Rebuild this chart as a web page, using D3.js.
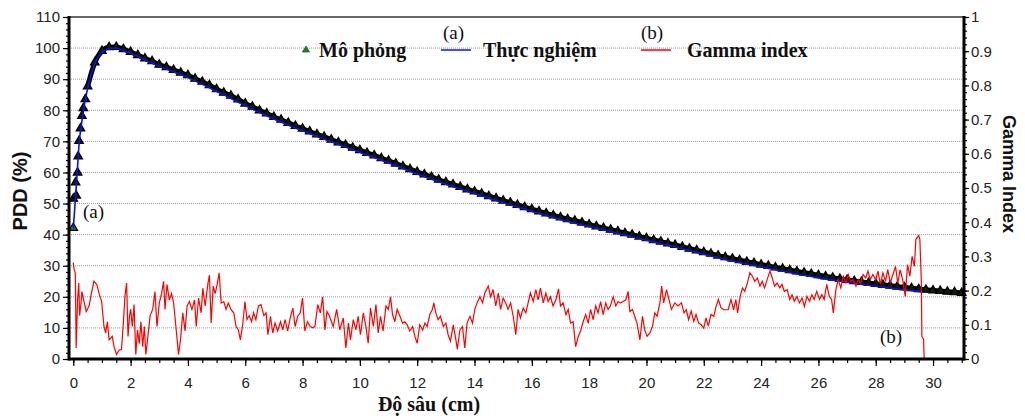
<!DOCTYPE html>
<html>
<head>
<meta charset="utf-8">
<script src="https://cdn.jsdelivr.net/npm/d3@7"></script>
<style>
  body { margin: 0; background: #fff; }
  svg { display: block; }
  .tick text { font-family: "Liberation Sans", Arial, sans-serif; font-size: 15px; fill: #222; }
  .tick line { stroke: #000; stroke-width: 1.2; }
  .serif { font-family: "Liberation Serif", "Times New Roman", serif; fill: #111; }
</style>
</head>
<body>
<div id="graphic"></div>
<script>
// Mô phỏng (simulated PDD, triangles)
var simDepth = [0, 0, 0.1, 0.08, 0.15, 0.17, 0.2, 0.25, 0.3, 0.35, 0.42,
  0.5, 0.75, 1, 1.25, 1.5, 1.75, 2, 2.25, 2.5, 2.75, 3, 3.25, 3.5, 3.75, 4, 4.25, 4.5, 4.75,
  5, 5.25, 5.5, 5.75, 6, 6.25, 6.5, 6.75, 7, 7.25, 7.5, 7.75, 8, 8.25, 8.5, 8.75,
  9, 9.25, 9.5, 9.75, 10, 10.25, 10.5, 10.75, 11, 11.25, 11.5, 11.75, 12, 12.25, 12.5, 12.75,
  13, 13.25, 13.5, 13.75, 14, 14.25, 14.5, 14.75, 15, 15.25, 15.5, 15.75, 16, 16.25, 16.5, 16.75,
  17, 17.25, 17.5, 17.75, 18, 18.25, 18.5, 18.75, 19, 19.25, 19.5, 19.75, 20, 20.25, 20.5, 20.75,
  21, 21.25, 21.5, 21.75, 22, 22.25, 22.5, 22.75, 23, 23.25, 23.5, 23.75, 24, 24.25, 24.5, 24.75,
  25, 25.25, 25.5, 25.75, 26, 26.25, 26.5, 26.75, 27, 27.25, 27.5, 27.75, 28, 28.25, 28.5, 28.75,
  29, 29.25, 29.5, 29.75, 30, 30.25, 30.5, 30.75, 31];
var simPdd = [42, 51.4, 52.4, 56.6, 59.8, 65, 70, 74, 78, 80.5, 83.4,
  87.5, 95.2, 98.9, 100.1, 100.2, 99.5, 98.6, 97.6, 96.5, 95.6, 94.5, 93.7, 92.8, 91.9, 91.1, 90, 89, 87.9,
  86.6, 85.5, 84.5, 83.3, 82, 81, 79.8, 78.8, 77.7, 76.8, 75.8, 74.8, 73.9, 73, 72.1, 71.3,
  70.4, 69.5, 68.7, 67.8, 67, 66.1, 65.3, 64.4, 63.6, 62.7, 61.8, 60.9, 60, 59.2, 58.4, 57.5,
  56.7, 56, 55.2, 54.4, 53.7, 53, 52.2, 51.5, 50.8, 50.1, 49.4, 48.7, 48, 47.3, 46.7, 46,
  45.4, 44.8, 44.3, 43.7, 43.1, 42.5, 42, 41.4, 40.9, 40.3, 39.8, 39.2, 38.7, 38.1, 37.6, 37,
  36.5, 35.9, 35.3, 34.8, 34.2, 33.7, 33.1, 32.6, 32.1, 31.6, 31.1, 30.7, 30.2, 29.8, 29.3, 28.9,
  28.4, 28, 27.6, 27.2, 26.8, 26.4, 26, 25.6, 25.3, 24.9, 24.6, 24.3, 24, 23.7, 23.4, 23.1,
  22.9, 22.6, 22.3, 22.1, 21.9, 21.7, 21.5, 21.3, 21.1];

// Thực nghiệm (measured PDD, blue line)
var expDepth = [0, 0.05, 0.1, 0.15, 0.2, 0.3, 0.4, 0.5, 0.6, 0.7, 0.8, 0.9, 1, 1.2, 1.4, 1.6, 1.8, 2, 2.5, 3,
  4, 5, 6, 7, 8, 9, 10, 11, 12, 13, 14, 15, 16, 17, 18, 19, 20, 21, 22, 23, 24, 25, 26, 27, 28, 29, 29.6];
var expPdd = [42, 48.5, 55, 62, 69, 76.5, 82.5, 87, 90.8, 93.8, 96, 97.6, 98.7, 99.7, 100, 99.7, 99, 98.3, 96.2, 94.2,
  90.5, 86.1, 81.5, 77.2, 73.4, 69.9, 66.5, 63.1, 59.5, 56.2, 53.2, 50.3, 47.5, 44.9, 42.6, 40.4, 38.2, 36, 33.7, 31.5,
  29.6, 27.8, 26.1, 24.7, 23.4, 22.3, 21.6];

// Gamma index [depth, gamma]
var gammaPts = [[0,0.282],[0.03,0.261],[0.07,0.251],[0.1,0.032],[0.15,0.173],[0.19,0.222],[0.22,0.127],[0.27,0.164],
  [0.3,0.197],[0.36,0.173],[0.45,0.139],[0.55,0.155],[0.63,0.191],[0.72,0.227],[0.82,0.218],[0.9,0.191],[0.99,0.168],
  [1.07,0.095],[1.13,0.076],[1.19,0.109],[1.25,0.056],[1.36,0.066],[1.42,0.036],[1.51,0.013],[1.6,0.027],[1.68,0.027],
  [1.75,0.109],[1.8,0.182],[1.86,0.222],[1.91,0.066],[1.96,0.125],[2,0.145],[2.06,0.095],[2.12,0.159],[2.18,0.013],
  [2.24,0.085],[2.3,0.045],[2.36,0.109],[2.42,0.036],[2.48,0.095],[2.53,0.013],[2.59,0.056],[2.68,0.127],[2.77,0.145],
  [2.85,0.197],[2.92,0.095],[3,0.164],[3.08,0.191],[3.15,0.227],[3.2,0.145],[3.27,0.218],[3.35,0.173],[3.43,0.191],
  [3.5,0.164],[3.58,0.095],[3.67,0.013],[3.74,0.056],[3.82,0.135],[3.9,0.082],[3.97,0.155],[4.05,0.168],[4.14,0.145],
  [4.23,0.173],[4.29,0.095],[4.37,0.178],[4.46,0.135],[4.52,0.207],[4.6,0.155],[4.7,0.222],[4.75,0.245],[4.81,0.105],
  [4.88,0.213],[4.95,0.191],[5.02,0.218],[5.09,0.252],[5.16,0.164],[5.25,0.168],[5.33,0.145],[5.41,0.164],[5.5,0.145],
  [5.6,0.135],[5.68,0.095],[5.76,0.085],[5.83,0.056],[5.91,0.1],[5.99,0.168],[6.06,0.115],[6.14,0.127],[6.22,0.109],
  [6.29,0.135],[6.37,0.115],[6.46,0.155],[6.55,0.159],[6.65,0.127],[6.73,0.135],[6.79,0.071],[6.88,0.125],[6.96,0.076],
  [7.04,0.105],[7.13,0.082],[7.23,0.109],[7.31,0.085],[7.39,0.115],[7.48,0.082],[7.57,0.12],[7.66,0.149],[7.74,0.095],
  [7.83,0.125],[7.92,0.135],[8,0.178],[8.08,0.082],[8.17,0.109],[8.27,0.095],[8.35,0.091],[8.43,0.095],[8.53,0.159],
  [8.62,0.135],[8.7,0.182],[8.78,0.085],[8.85,0.139],[8.93,0.127],
  [9.07,0.095],[9.19,0.145],[9.3,0.085],[9.42,0.12],[9.51,0.032],[9.6,0.105],[9.67,0.056],[9.77,0.115],[9.86,0.085],
  [9.94,0.125],[10.02,0.071],[10.12,0.135],[10.21,0.095],[10.29,0.046],[10.37,0.149],[10.47,0.095],[10.56,0.159],
  [10.64,0.076],[10.72,0.125],[10.81,0.082],[10.91,0.155],[10.99,0.145],[11.07,0.182],[11.14,0.13],[11.22,0.109],
  [11.3,0.145],[11.4,0.125],[11.49,0.105],[11.57,0.109],[11.65,0.1],[11.74,0.082],[11.84,0.095],[11.92,0.066],[12,0.046],
  [12.09,0.1],[12.19,0.085],[12.27,0.105],[12.35,0.095],[12.44,0.13],[12.53,0.145],[12.58,0.164],[12.65,0.135],
  [12.73,0.115],[12.81,0.125],[12.91,0.095],[13,0.105],[13.08,0.071],[13.16,0.052],[13.26,0.1],[13.35,0.056],[13.4,0.029],
  [13.49,0.085],[13.58,0.095],[13.66,0.032],[13.74,0.105],[13.84,0.125],[13.93,0.105],[14.01,0.145],[14.09,0.164],
  [14.19,0.182],[14.28,0.164],[14.36,0.193],[14.48,0.213],[14.56,0.182],[14.65,0.203],[14.74,0.155],[14.83,0.193],
  [14.91,0.145],[15,0.178],[15.09,0.164],[15.17,0.145],[15.26,0.164],[15.35,0.125],[15.44,0.071],[15.52,0.145],[15.6,0.12],
  [15.7,0.149],[15.79,0.135],[15.87,0.164],[15.95,0.193],[16.05,0.168],[16.14,0.203],[16.22,0.173],[16.3,0.207],
  [16.4,0.164],[16.49,0.193],[16.57,0.168],[16.65,0.182],[16.74,0.155],[16.84,0.173],[16.93,0.205],[17,0.155],
  [17.09,0.164],[17.19,0.13],[17.27,0.145],[17.35,0.105],[17.44,0.109],[17.53,0.036],[17.62,0.066],[17.7,0.082],
  [17.79,0.109],[17.88,0.13],[17.97,0.105],[18.05,0.145],[18.14,0.115],[18.23,0.155],[18.31,0.135],[18.4,0.168],
  [18.49,0.13],[18.58,0.164],[18.66,0.145],[18.74,0.155],[18.84,0.182],[18.93,0.155],[19.01,0.168],[19.09,0.164],
  [19.19,0.168],[19.28,0.173],[19.36,0.198],[19.42,0.139],[19.51,0.145],[19.59,0.125],[19.67,0.105],[19.77,0.056],
  [19.86,0.125],[19.94,0.085],[20.02,0.066],[20.12,0.076],[20.21,0.095],[20.29,0.135],[20.37,0.125],[20.47,0.164],
  [20.53,0.213],[20.6,0.164],[20.7,0.203],[20.79,0.173],[20.87,0.145],[20.99,0.164],[21.1,0.155],
  [21.22,0.164],[21.31,0.135],[21.39,0.144],[21.47,0.115],[21.56,0.14],[21.65,0.11],[21.73,0.13],[21.82,0.105],
  [21.91,0.1],[22,0.09],[22.08,0.12],[22.16,0.096],[22.25,0.13],[22.35,0.125],[22.43,0.154],[22.51,0.174],[22.6,0.15],
  [22.69,0.144],[22.77,0.144],[22.85,0.144],[22.95,0.174],[23.04,0.144],[23.12,0.174],[23.18,0.135],[23.27,0.183],
  [23.35,0.208],[23.43,0.198],[23.52,0.222],[23.61,0.252],[23.7,0.242],[23.78,0.227],[23.87,0.237],[23.96,0.213],
  [24.04,0.227],[24.12,0.208],[24.21,0.232],[24.31,0.257],[24.39,0.237],[24.47,0.213],[24.56,0.222],[24.65,0.208],
  [24.73,0.218],[24.81,0.198],[24.91,0.203],[25,0.174],[25.08,0.188],[25.16,0.169],[25.25,0.183],[25.34,0.164],
  [25.43,0.178],[25.51,0.154],[25.6,0.183],[25.69,0.169],[25.77,0.188],[25.85,0.174],[25.94,0.198],[26.04,0.174],
  [26.12,0.188],[26.2,0.174],[26.29,0.218],[26.38,0.183],[26.46,0.174],[26.52,0.135],[26.61,0.203],[26.69,0.232],
  [26.78,0.208],[26.87,0.242],[26.96,0.222],[27.04,0.247],[27.12,0.227],[27.21,0.232],[27.31,0.213],[27.39,0.232],
  [27.47,0.222],[27.56,0.247],[27.65,0.237],[27.73,0.257],[27.81,0.232],[27.9,0.247],[28,0.232],[28.08,0.257],
  [28.16,0.218],[28.25,0.252],[28.34,0.227],[28.42,0.261],[28.51,0.222],[28.6,0.247],[28.69,0.271],[28.77,0.222],
  [28.85,0.261],[28.94,0.232],[29.03,0.183],[29.11,0.276],[29.19,0.242],[29.27,0.3],[29.35,0.271],[29.4,0.35],
  [29.5,0.361],[29.54,0.35],[29.59,0.232],[29.61,0.066],[29.67,0.057],[29.69,0]];

var xTicks = d3.range(0, 31, 2);
var yTicks = d3.range(0, 111, 10);
var gTicks = d3.range(0, 1.01, 0.1);

function drawChart(){
    var w = 1025, h = 420;
    var padL = 69, padR = 964, padT = 17, padB = 359;

    var svg = d3.select("#graphic").append("svg")
        .attr("width", w).attr("height", h);

    var xScale = d3.scaleLinear().domain([-0.15, 31.08]).range([padL, padR]);
    var yScale = d3.scaleLinear().domain([0, 110]).range([padB, padT]);
    var gScale = d3.scaleLinear().domain([0, 1]).range([padB, padT]);

    // grid
    svg.append("g").selectAll("line")
       .data(yTicks.filter(function(d){ return d > 0 && d < 110; }))
       .enter().append("line")
       .attr("x1", padL).attr("x2", padR)
       .attr("y1", function(d){ return yScale(d); })
       .attr("y2", function(d){ return yScale(d); })
       .attr("stroke", "#999").attr("stroke-width", 1).attr("stroke-dasharray", "1,1");

    // minor ticks
    svg.append("g")
       .attr("transform", "translate(0," + padB + ")")
       .call(d3.axisBottom(xScale).tickValues(d3.range(0, 31.01, 0.5)).tickSize(4).tickFormat(""))
       .call(function(g){ g.select(".domain").remove(); });
    svg.append("g")
       .attr("transform", "translate(" + padL + ",0)")
       .call(d3.axisLeft(yScale).tickValues(d3.range(0, 110.1, 2)).tickSize(3).tickFormat(""))
       .call(function(g){ g.select(".domain").remove(); });
    svg.append("g")
       .attr("transform", "translate(" + padR + ",0)")
       .call(d3.axisRight(gScale).tickValues(d3.range(0, 1.001, 0.02)).tickSize(3).tickFormat(""))
       .call(function(g){ g.select(".domain").remove(); });

    // major axes
    svg.append("g")
       .attr("transform", "translate(0," + padB + ")")
       .call(d3.axisBottom(xScale).tickValues(xTicks).tickSize(7).tickPadding(11).tickSizeOuter(0))
       .call(function(g){ g.select(".domain").remove(); });
    svg.append("g")
       .attr("transform", "translate(" + padL + ",0)")
       .call(d3.axisLeft(yScale).tickValues(yTicks).tickSize(6).tickPadding(3))
       .call(function(g){ g.select(".domain").remove(); });
    svg.append("g")
       .attr("transform", "translate(" + padR + ",0)")
       .call(d3.axisRight(gScale).tickValues(gTicks).tickSize(5).tickPadding(2).tickFormat(d3.format("~g")))
       .call(function(g){ g.select(".domain").remove(); });

    // simulated markers: so dense past the build-up that they merge into a black band
    var simPts = simDepth.map(function(d, i){ return [d, simPdd[i]]; });
    var bandLine = d3.line()
        .x(function(d){ return xScale(d[0]); })
        .y(function(d){ return yScale(d[1]) - 0.5; })
        .curve(d3.curveMonotoneX);
    svg.append("path")
       .datum(simPts.filter(function(d){ return d[0] >= 0.5; }))
       .attr("d", bandLine)
       .attr("fill", "none").attr("stroke", "#000").attr("stroke-width", 5);

    var tri = d3.symbol().type(d3.symbolTriangle).size(32);
    svg.append("g").selectAll("path")
       .data(simPts)
       .enter().append("path")
       .attr("d", tri)
       .attr("transform", function(d){ return "translate(" + xScale(d[0]) + "," + (yScale(d[1]) - 0.5) + ")"; })
       .attr("fill", function(d, i){ return i === 0 ? "#1d8a1d" : "#0b1f0b"; })
       .attr("stroke", "#000").attr("stroke-width", 1.2);

    // measured line
    var expLine = d3.line()
        .x(function(d){ return xScale(d[0]); })
        .y(function(d){ return yScale(d[1]); })
        .curve(d3.curveMonotoneX);
    svg.append("path")
       .datum(expDepth.map(function(d, i){ return [d, expPdd[i]]; }))
       .attr("d", expLine)
       .attr("fill", "none").attr("stroke", "#1010e8").attr("stroke-width", 1.6);

    // gamma line
    var gLine = d3.line()
        .x(function(d){ return xScale(d[0]); })
        .y(function(d){ return gScale(d[1]); });
    svg.append("path")
       .datum(gammaPts)
       .attr("d", gLine)
       .attr("fill", "none").attr("stroke", "#ff0000").attr("stroke-width", 1.2);

    // frame
    svg.append("line").attr("x1", padL).attr("x2", padR).attr("y1", padT).attr("y2", padT)
       .attr("stroke", "#333").attr("stroke-width", 1.5);
    svg.append("line").attr("x1", padL).attr("x2", padL).attr("y1", padT - 1).attr("y2", padB + 1.5)
       .attr("stroke", "#000").attr("stroke-width", 3);
    svg.append("line").attr("x1", padR).attr("x2", padR).attr("y1", padT - 1).attr("y2", padB + 1.5)
       .attr("stroke", "#000").attr("stroke-width", 3);
    svg.append("line").attr("x1", padL).attr("x2", padR).attr("y1", padB).attr("y2", padB)
       .attr("stroke", "#000").attr("stroke-width", 3);

    // axis titles
    svg.append("text")
       .attr("transform", "translate(27,191) rotate(-90)")
       .attr("text-anchor", "middle")
       .style("font-family", "'Liberation Sans', Arial, sans-serif")
       .style("font-size", "20px").style("font-weight", "bold").attr("fill", "#111")
       .text("PDD (%)");
    svg.append("text")
       .attr("transform", "translate(1003,174) rotate(90)")
       .attr("text-anchor", "middle")
       .style("font-family", "'Liberation Sans', Arial, sans-serif")
       .style("font-size", "18px").style("font-weight", "bold").attr("fill", "#111")
       .text("Gamma Index");
    svg.append("text").attr("class", "serif")
       .attr("x", 429).attr("y", 411).attr("text-anchor", "middle")
       .style("font-size", "20px").style("font-weight", "bold")
       .text("Độ sâu (cm)");

    // legend
    svg.append("path")
       .attr("d", d3.symbol().type(d3.symbolTriangle).size(22))
       .attr("transform", "translate(306,50)")
       .attr("fill", "#1d8a1d").attr("stroke", "#0a3a0a").attr("stroke-width", 0.6);
    svg.append("text").attr("class", "serif")
       .attr("x", 319).attr("y", 57).style("font-size", "20px").style("font-weight", "bold")
       .text("Mô phỏng");
    svg.append("line").attr("x1", 441).attr("x2", 471).attr("y1", 50).attr("y2", 50)
       .attr("stroke", "#4a4aff").attr("stroke-width", 2);
    svg.append("text").attr("class", "serif")
       .attr("x", 483).attr("y", 57).style("font-size", "20px").style("font-weight", "bold")
       .text("Thực nghiệm");
    svg.append("line").attr("x1", 641).attr("x2", 671).attr("y1", 50).attr("y2", 50)
       .attr("stroke", "#ff4040").attr("stroke-width", 2);
    svg.append("text").attr("class", "serif")
       .attr("x", 687).attr("y", 57).style("font-size", "20px").style("font-weight", "bold")
       .text("Gamma index");

    // annotations
    var notes = [["(a)", 443, 39], ["(b)", 641, 39], ["(a)", 83, 218], ["(b)", 880, 343]];
    svg.append("g").selectAll("text")
       .data(notes).enter().append("text").attr("class", "serif")
       .attr("x", function(d){ return d[1]; })
       .attr("y", function(d){ return d[2]; })
       .style("font-size", "19px")
       .text(function(d){ return d[0]; });
}

drawChart();
</script>
</body>
</html>
